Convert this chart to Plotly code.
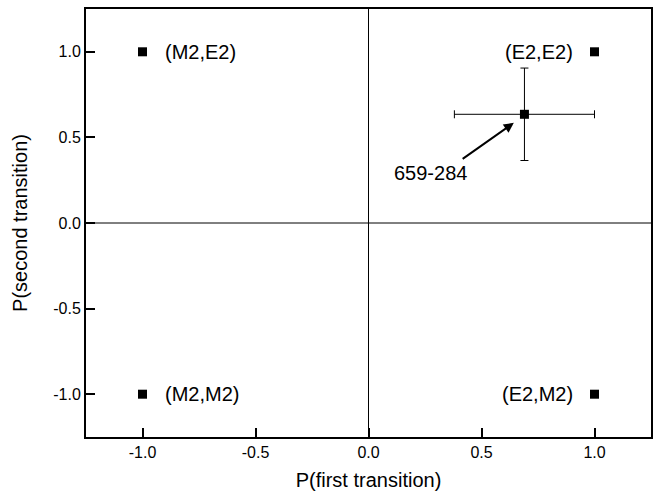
import plotly.graph_objects as go

# Reference points (pure multipolarity combinations)
ref_x = [-1.0, 1.0, -1.0, 1.0]
ref_y = [1.0, 1.0, -1.0, -1.0]
ref_labels = ["(M2,E2)", "(E2,E2)", "(M2,M2)", "(E2,M2)"]
ref_label_side = ["right", "left", "right", "left"]

# Measured cascade
meas_name = "659-284"
meas_x = [0.69]
meas_y = [0.635]
meas_xerr = [0.31]
meas_yerr = [0.27]

tick_vals = [-1.0, -0.5, 0.0, 0.5, 1.0]
tick_text = ["-1.0", "-0.5", "0.0", "0.5", "1.0"]

FONT = "Liberation Sans, Arial, sans-serif"

fig = go.Figure()

fig.add_trace(go.Scatter(
    x=ref_x, y=ref_y, mode="markers",
    marker=dict(symbol="square", size=9, color="black"),
    showlegend=False, hoverinfo="skip"))

fig.add_trace(go.Scatter(
    x=meas_x, y=meas_y, mode="markers",
    marker=dict(symbol="square", size=9, color="black"),
    error_x=dict(type="data", array=meas_xerr, color="black", thickness=1, width=4),
    error_y=dict(type="data", array=meas_yerr, color="black", thickness=1, width=4),
    showlegend=False, hoverinfo="skip"))

# zero lines
fig.add_shape(type="line", xref="x", yref="paper", x0=0, x1=0, y0=0, y1=1,
              line=dict(color="black", width=1))
fig.add_shape(type="line", xref="paper", yref="y", x0=0, x1=1, y0=0, y1=0,
              line=dict(color="black", width=1))

for x, y, t, side in zip(ref_x, ref_y, ref_labels, ref_label_side):
    if side == "right":
        fig.add_annotation(x=x, y=y, text=t, showarrow=False, xanchor="left",
                           xshift=20, font=dict(family=FONT, size=20, color="black"))
    else:
        fig.add_annotation(x=x, y=y, text=t, showarrow=False, xanchor="right",
                           xshift=-20, font=dict(family=FONT, size=20, color="black"))

# arrow to measured point
fig.add_annotation(x=0.643, y=0.585, ax=0.41, ay=0.368, xref="x", yref="y",
                   axref="x", ayref="y", text="", showarrow=True,
                   arrowhead=2, arrowsize=1, arrowwidth=2, arrowcolor="black")
fig.add_annotation(x=0.275, y=0.29, text=meas_name, showarrow=False,
                   font=dict(family=FONT, size=20, color="black"))

axis_common = dict(
    showgrid=False, zeroline=False, showline=True, linecolor="black",
    linewidth=2, mirror=True, ticks="inside", ticklen=9, tickwidth=1.5,
    tickcolor="black", tickfont=dict(family=FONT, size=16, color="black"),
    tickvals=tick_vals, ticktext=tick_text,
)

fig.update_layout(
    width=660, height=495,
    margin=dict(l=86, r=7, t=8, b=57),
    plot_bgcolor="white", paper_bgcolor="white",
    xaxis=dict(range=[-1.25, 1.25], title=dict(text="P(first transition)",
               font=dict(family=FONT, size=20, color="black"), standoff=13),
               **axis_common),
    yaxis=dict(range=[-1.25, 1.25], title=dict(text="P(second transition)",
               font=dict(family=FONT, size=20, color="black"), standoff=20),
               **axis_common),
)

fig.write_html("out.html", config={"displayModeBar": False},
               post_script="document.body.style.margin='0px';")
